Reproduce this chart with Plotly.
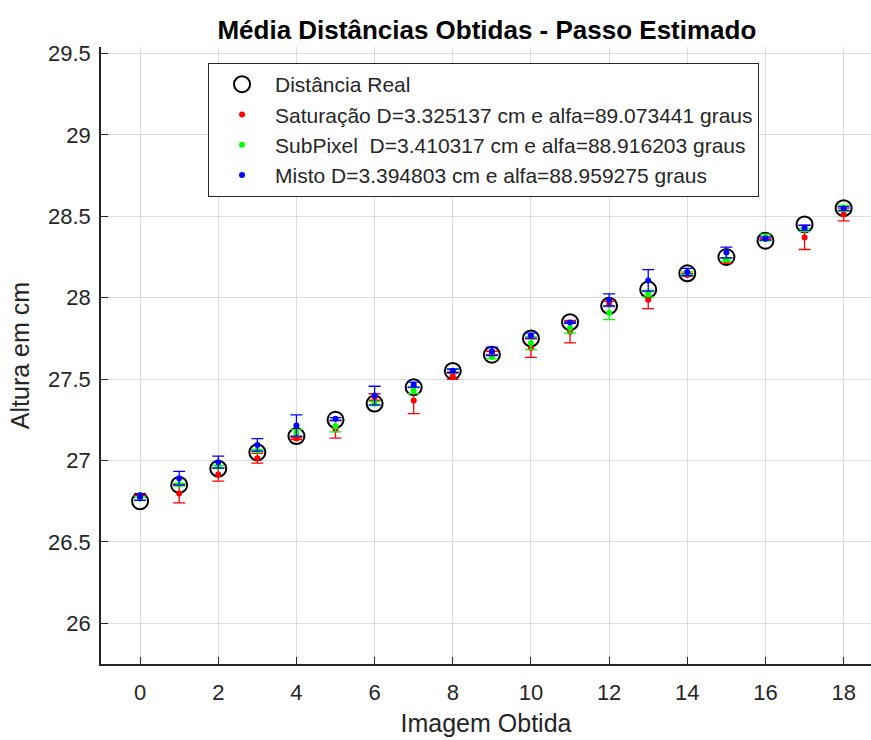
import plotly.graph_objects as go

imagens = list(range(19))
real = [26.75, 26.85, 26.95, 27.05, 27.15, 27.25, 27.35, 27.45, 27.55, 27.65,
        27.75, 27.85, 27.95, 28.05, 28.15, 28.25, 28.35, 28.45, 28.55]

sat_mean = [26.770, 26.797, 26.914, 27.014, 27.135, 27.190, 27.390, 27.368, 27.517, 27.661,
            27.691, 27.791, 27.961, 27.988, 28.140, 28.228, 28.360, 28.370, 28.511]
sat_err = [0.015, 0.057, 0.041, 0.030, 0.006, 0.053, 0.020, 0.080, 0.018, 0.010,
           0.057, 0.069, 0.016, 0.055, 0.008, 0.015, 0.005, 0.074, 0.039]

sub_mean = [26.765, 26.852, 26.962, 27.060, 27.170, 27.211, 27.350, 27.431, 27.550, 27.636,
            27.722, 27.814, 27.906, 28.025, 28.150, 28.235, 28.370, 28.418, 28.550]
sub_err = [0.010, 0.008, 0.008, 0.006, 0.020, 0.035, 0.013, 0.020, 0.010, 0.010,
           0.041, 0.031, 0.041, 0.020, 0.008, 0.010, 0.020, 0.010, 0.019]

mis_mean = [26.776, 26.891, 26.990, 27.096, 27.215, 27.256, 27.399, 27.466, 27.552, 27.671,
            27.767, 27.847, 27.986, 28.106, 28.158, 28.278, 28.364, 28.429, 28.548]
mis_err = [0.021, 0.042, 0.037, 0.039, 0.065, 0.008, 0.057, 0.015, 0.010, 0.026,
           0.015, 0.005, 0.037, 0.066, 0.022, 0.033, 0.010, 0.016, 0.012]

labels = ["Distância Real",
          "Saturação D=3.325137 cm e alfa=89.073441 graus",
          "SubPixel  D=3.410317 cm e alfa=88.916203 graus",
          "Misto D=3.394803 cm e alfa=88.959275 graus"]

fig = go.Figure()
fig.add_trace(go.Scatter(
    x=imagens, y=real, mode="markers", name=labels[0], legendgroup="a",
    marker=dict(symbol="circle-open", size=16, color="black", line=dict(width=2, color="black"))))

for nm, m, e, c, g in [(labels[1], sat_mean, sat_err, "#FF0000", "b"),
                       (labels[2], sub_mean, sub_err, "#00FF00", "c"),
                       (labels[3], mis_mean, mis_err, "#0000FF", "d")]:
    fig.add_trace(go.Scatter(
        x=imagens, y=m, mode="markers", name=nm, legendgroup=g,
        marker=dict(symbol="circle", size=6, color=c),
        error_y=dict(type="data", array=e, visible=True, color=c, thickness=1.3, width=6)))

font_fam = "Liberation Sans, Arial, sans-serif"
fig.update_layout(
    width=871, height=740,
    margin=dict(l=101, r=0, t=47, b=76),
    paper_bgcolor="white", plot_bgcolor="white",
    font=dict(family=font_fam, color="#262626"),
    title=dict(text="<b>Média Distâncias Obtidas - Passo Estimado</b>",
               x=0.559, xanchor="center", y=0.959, yanchor="middle",
               font=dict(size=26, color="black")),
    showlegend=True,
    legend=dict(x=0.139, y=0.974, xanchor="left", yanchor="top",
                bgcolor="white", bordercolor="#262626", borderwidth=1,
                font=dict(size=21, color="#262626"), tracegroupgap=0,
                itemwidth=56),
)
fig.update_xaxes(
    range=[-1, 18.7], tickmode="array", tickvals=list(range(0, 19, 2)),
    showgrid=True, gridcolor="#DCDCDC", gridwidth=1, zeroline=False,
    showline=True, linecolor="#262626", linewidth=1.5,
    ticks="inside", ticklen=7, tickcolor="#262626",
    tickfont=dict(size=22), ticklabelstandoff=8,
    title=dict(text="Imagem Obtida", font=dict(size=25), standoff=10))
fig.update_yaxes(
    range=[25.75, 29.54], tickmode="array",
    tickvals=[26, 26.5, 27, 27.5, 28, 28.5, 29, 29.5],
    ticktext=["26", "26.5", "27", "27.5", "28", "28.5", "29", "29.5"],
    showgrid=True, gridcolor="#DCDCDC", gridwidth=1, zeroline=False,
    showline=True, linecolor="#262626", linewidth=1.5,
    ticks="inside", ticklen=7, tickcolor="#262626",
    tickfont=dict(size=22), ticklabelstandoff=4,
    title=dict(text="Altura em cm", font=dict(size=25), standoff=11))

fig.write_html("out.html")
